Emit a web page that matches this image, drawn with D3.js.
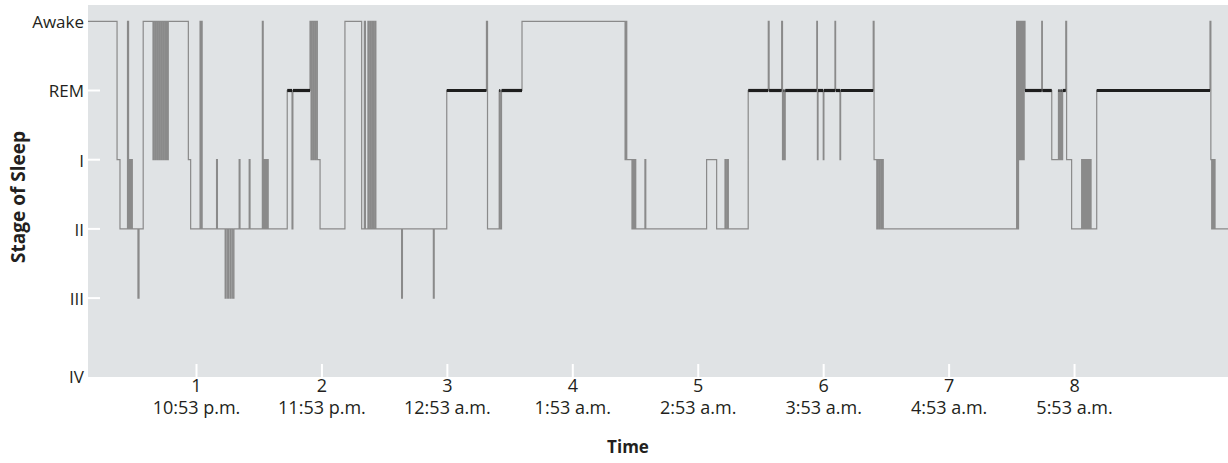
<!DOCTYPE html>
<html>
<head>
<meta charset="utf-8">
<script src="https://cdn.jsdelivr.net/npm/d3@7"></script>
<style>
   body { margin: 0; background: #fff; }
   text { font-family: "Open Sans", sans-serif; fill: #231f20; }
</style>
</head>
<body>
<svg id="hypnogram"></svg>
<script>
// stages, top to bottom
var stageLabels = ["Awake", "REM", "I", "II", "III", "IV"];

// hour ticks along the bottom
var hourTicks = [1, 2, 3, 4, 5, 6, 7, 8];
var clockLabels = ["10:53 p.m.", "11:53 p.m.", "12:53 a.m.", "1:53 a.m.",
   "2:53 a.m.", "3:53 a.m.", "4:53 a.m.", "5:53 a.m."];

// minutes after 9:53 p.m. where the stage changes, and the new stage
var changeTimes = [
   8.1, 22.0, 23.4, 27.0, 27.5, 27.9, 28.4, 28.9, 29.3, 32.0, 32.5, 34.5,
   39.2, 39.6, 40.2, 40.6, 41.2, 41.6, 42.2, 42.6, 43.2, 43.6, 44.2, 44.6, 45.2, 45.6, 46.1, 46.5,
   56.1, 57.2, 61.7, 62.1, 62.4, 62.7, 69.6, 70.0,
   73.7, 74.2, 74.9, 75.4, 76.1, 76.6, 77.3, 77.9,
   80.4, 80.8, 85.2, 85.6,
   91.5, 91.9, 92.3, 92.7, 93.1, 93.5, 93.9, 94.3,
   103.4, 105.7, 106.1,
   114.3, 114.8, 115.2, 115.8, 116.2, 116.8, 117.2, 117.8, 119.1,
   131.0, 139.0, 140.3, 140.8,
   142.0, 142.5, 143.1, 143.6, 144.2, 144.7, 145.3, 145.8,
   158.1, 158.5, 173.3, 173.7,
   179.7, 198.7, 199.2, 204.8, 205.3, 205.9, 215.7,
   265.0, 265.4, 265.8, 268.3, 268.8, 269.3, 269.7, 270.1,
   274.5, 274.9, 304.0, 308.8,
   312.8, 313.3, 313.9, 314.4,
   323.9, 333.5, 333.9, 339.9, 340.3, 340.8, 341.2, 341.6,
   356.7, 357.0, 357.3, 359.8, 360.1, 365.4, 365.7, 367.8, 368.1,
   383.7, 384.1, 385.4, 385.9, 386.5, 387.0, 387.6, 388.0, 388.5,
   452.3, 452.7, 453.2, 453.6, 454.1, 454.5, 455.0, 455.4, 455.9, 456.3,
   464.3, 464.6, 469.1, 472.3, 472.8, 473.3, 473.8, 474.3, 475.8, 476.2, 478.6,
   483.4, 483.9, 484.4, 484.9, 485.4, 485.9, 486.4, 486.9, 487.4, 487.9,
   490.6, 544.8, 545.2, 545.6, 546.0, 546.4, 546.8, 547.2
];
var changeStages = [
   "Awake", "I", "II", "Awake", "II", "I", "II", "I", "II", "III", "II", "Awake",
   "I", "Awake", "I", "Awake", "I", "Awake", "I", "Awake", "I", "Awake", "I", "Awake", "I", "Awake", "I", "Awake",
   "I", "II", "Awake", "II", "Awake", "II", "I", "II",
   "III", "II", "III", "II", "III", "II", "III", "II",
   "I", "II", "I", "II",
   "Awake", "II", "I", "II", "I", "II", "I", "II",
   "REM", "II", "REM",
   "Awake", "I", "Awake", "I", "Awake", "I", "Awake", "I", "II",
   "Awake", "II", "Awake", "II",
   "Awake", "II", "Awake", "II", "Awake", "II", "Awake", "II",
   "III", "II", "III", "II",
   "REM", "Awake", "II", "REM", "II", "REM", "Awake",
   "I", "Awake", "I", "II", "I", "II", "I", "II",
   "I", "II", "I", "II",
   "I", "II", "I", "II",
   "REM", "Awake", "REM", "Awake", "I", "REM", "I", "REM",
   "Awake", "I", "REM", "I", "REM", "Awake", "REM", "I", "REM",
   "Awake", "I", "II", "I", "II", "I", "II", "I", "II",
   "Awake", "II", "Awake", "I", "Awake", "I", "Awake", "I", "Awake", "REM",
   "Awake", "REM", "I", "REM", "I", "REM", "I", "REM", "Awake", "I", "II",
   "I", "II", "I", "II", "I", "II", "I", "II", "I", "II",
   "REM", "Awake", "I", "II", "I", "II", "I", "II"
];
var recordEnd = 553.4;

var width = 1228, height = 463;
var plot = { left: 88, top: 5, right: 1228, bottom: 377 };

var svg = d3.select("svg#hypnogram")
   .attr("width", width)
   .attr("height", height);

// grey panel
svg.append("rect")
   .attr("x", plot.left)
   .attr("y", plot.top)
   .attr("width", plot.right - plot.left)
   .attr("height", plot.bottom - plot.top)
   .attr("fill", "#e0e3e5");

var x = d3.scaleLinear()
   .domain([changeTimes[0], recordEnd])
   .range([plot.left, plot.right]);

var y = d3.scalePoint()
   .domain(stageLabels)
   .range([21.3, 367.3]);

var data = changeTimes.map(function (t, i) {
   return { t: t, s: changeStages[i] };
});
data.push({ t: recordEnd, s: changeStages[changeStages.length - 1] });

// small white ticks inside the panel
svg.append("g")
   .selectAll("line")
   .data(stageLabels.slice(1, 5))
   .join("line")
   .attr("x1", plot.left)
   .attr("x2", plot.left + 12)
   .attr("y1", function (d) { return y(d); })
   .attr("y2", function (d) { return y(d); })
   .attr("stroke", "#fff")
   .attr("stroke-width", 2);

svg.append("g")
   .selectAll("line")
   .data(hourTicks)
   .join("line")
   .attr("x1", function (d) { return x(d * 60); })
   .attr("x2", function (d) { return x(d * 60); })
   .attr("y1", plot.bottom - 13)
   .attr("y2", plot.bottom)
   .attr("stroke", "#fff")
   .attr("stroke-width", 2);

// the hypnogram trace
var line = d3.line()
   .curve(d3.curveStepAfter)
   .x(function (d) { return x(d.t); })
   .y(function (d) { return y(d.s); });

svg.append("path")
   .datum(data)
   .attr("fill", "none")
   .attr("stroke", "#8a8a8a")
   .attr("stroke-width", 1.2)
   .attr("d", line);

// REM periods drawn heavy
var remRuns = [];
data.forEach(function (d, i) {
   if (d.s === "REM" && i < data.length - 1) remRuns.push([d.t, data[i + 1].t]);
});
svg.append("g")
   .selectAll("line")
   .data(remRuns)
   .join("line")
   .attr("x1", function (d) { return x(d[0]); })
   .attr("x2", function (d) { return x(d[1]); })
   .attr("y1", y("REM"))
   .attr("y2", y("REM"))
   .attr("stroke", "#1e1e1e")
   .attr("stroke-width", 3.2);

// stage labels
svg.append("g")
   .selectAll("text")
   .data(stageLabels)
   .join("text")
   .attr("x", plot.left - 4)
   .attr("y", function (d) { return y(d) + (d === "IV" ? 10 : 1); })
   .attr("dy", "0.35em")
   .attr("text-anchor", "end")
   .style("font-size", "17px")
   .text(function (d) { return d; });

// hour labels
var hourG = svg.append("g")
   .selectAll("g")
   .data(hourTicks)
   .join("g")
   .attr("transform", function (d) { return "translate(" + x(d * 60) + ",0)"; });
hourG.append("text")
   .attr("y", 392)
   .attr("text-anchor", "middle")
   .style("font-size", "18px")
   .text(function (d) { return d; });
hourG.append("text")
   .attr("y", 414)
   .attr("text-anchor", "middle")
   .style("font-size", "18px")
   .text(function (d, i) { return clockLabels[i]; });

// axis titles
svg.append("text")
   .attr("transform", "translate(25,197) rotate(-90)")
   .attr("text-anchor", "middle")
   .style("font-size", "19px")
   .style("font-weight", "bold")
   .text("Stage of Sleep");

svg.append("text")
   .attr("x", 628)
   .attr("y", 453)
   .attr("text-anchor", "middle")
   .style("font-size", "17px")
   .style("font-weight", "bold")
   .text("Time");
</script>
</body>
</html>
